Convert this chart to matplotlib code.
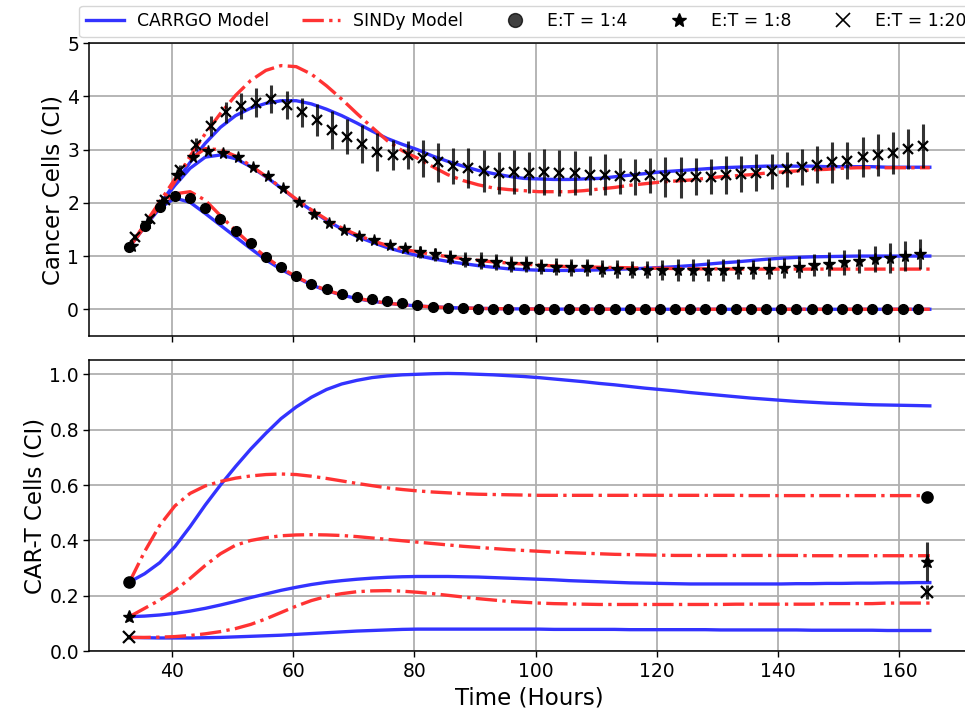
"""
CARRGO vs SINDy 모델 비교 — 암세포 / CAR-T 세포 (세 가지 E:T 비율).
"""

import numpy as np
import matplotlib
matplotlib.use("Agg")
import matplotlib.pyplot as plt
from matplotlib.lines import Line2D

# ---- 시간축 ----
t_model = np.append(np.arange(33, 164, 2.5), 165)   # 모델 곡선
t_data = np.arange(33, 164, 2.5)                      # 측정 시점 (53개)
t_ct = [33, 164.5]                                    # CAR-T 측정 (처음/끝)

# ---- 측정값: 암세포 ----
cancer_14 = [1.17, 1.57, 1.93, 2.12, 2.09, 1.91, 1.70, 1.47, 1.24, 0.99, 0.80, 0.63,
             0.48, 0.38, 0.29, 0.24, 0.19, 0.15, 0.11, 0.08, 0.05, 0.03, 0.02, 0.01,
             0.01, 0.005, 0.004, 0.003, 0.002, 0.002, 0.001, 0.0, 0.0, 0.0, 0.0, 0.0,
             0.0, 0.0, 0.0, 0.0, 0.0, 0.0, 0.0, 0.0, 0.0, 0.0, 0.0, 0.0, 0.0, 0.0,
             0.0, 0.0, 0.0]
cancer_14_err = [0.02, 0.02, 0.02, 0.02, 0.02, 0.02, 0.02, 0.02, 0.02, 0.02, 0.02, 0.02,
                 0.01, 0.01, 0.01, 0.01, 0.01, 0.01, 0.01, 0.01, 0.01, 0.01, 0.01, 0.01,
                 0.01, 0.01, 0.01, 0.01, 0.01, 0.01, 0.01, 0.01, 0.01, 0.01, 0.01, 0.01,
                 0.01, 0.01, 0.01, 0.01, 0.01, 0.01, 0.01, 0.01, 0.01, 0.01, 0.01, 0.01,
                 0.01, 0.01, 0.01, 0.01, 0.01]
cancer_18 = [1.18, 1.62, 2.02, 2.52, 2.87, 2.98, 2.93, 2.86, 2.68, 2.51, 2.27, 2.02,
             1.80, 1.63, 1.49, 1.38, 1.30, 1.21, 1.15, 1.07, 1.03, 0.98, 0.93, 0.91,
             0.88, 0.85, 0.85, 0.81, 0.80, 0.79, 0.79, 0.76, 0.75, 0.74, 0.74, 0.74,
             0.74, 0.74, 0.74, 0.74, 0.75, 0.75, 0.76, 0.78, 0.79, 0.83, 0.85, 0.88,
             0.91, 0.94, 0.96, 1.00, 1.04]
cancer_18_err = [0.02, 0.03, 0.04, 0.05, 0.05, 0.04, 0.03, 0.03, 0.03, 0.03, 0.03, 0.03,
                 0.03, 0.03, 0.03, 0.03, 0.04, 0.04, 0.05, 0.11, 0.13, 0.13, 0.14, 0.16,
                 0.15, 0.15, 0.15, 0.14, 0.16, 0.16, 0.16, 0.16, 0.17, 0.16, 0.16, 0.19,
                 0.21, 0.21, 0.21, 0.21, 0.19, 0.18, 0.20, 0.19, 0.21, 0.20, 0.23, 0.23,
                 0.23, 0.24, 0.28, 0.28, 0.29]
cancer_120 = [1.36, 1.69, 2.05, 2.61, 3.09, 3.45, 3.70, 3.82, 3.88, 3.95, 3.84, 3.70,
              3.55, 3.37, 3.24, 3.11, 2.96, 2.90, 2.90, 2.84, 2.76, 2.69, 2.65, 2.60,
              2.56, 2.58, 2.57, 2.58, 2.56, 2.56, 2.52, 2.53, 2.51, 2.49, 2.52, 2.49,
              2.48, 2.49, 2.49, 2.52, 2.54, 2.57, 2.59, 2.63, 2.68, 2.72, 2.76, 2.79,
              2.86, 2.90, 2.94, 3.01, 3.07]
cancer_120_err = [0.05, 0.06, 0.07, 0.10, 0.12, 0.19, 0.19, 0.24, 0.27, 0.26, 0.27, 0.28,
                  0.30, 0.35, 0.33, 0.36, 0.36, 0.29, 0.27, 0.35, 0.37, 0.34, 0.38, 0.39,
                  0.40, 0.41, 0.39, 0.43, 0.43, 0.42, 0.37, 0.39, 0.34, 0.34, 0.33, 0.38,
                  0.38, 0.35, 0.33, 0.36, 0.34, 0.34, 0.33, 0.33, 0.34, 0.35, 0.38, 0.35,
                  0.37, 0.39, 0.39, 0.38, 0.41]

# ---- 측정값: CAR-T ----
cart_14 = [0.25, 0.558]
cart_18 = [0.125, 0.323]
cart_120 = [0.05, 0.215]
cart_14_err = [0.005, 0.01]
cart_18_err = [0.005, 0.07]
cart_120_err = [0.005, 0.025]

# ---- 모델: 암세포 ----
carrgo_c_14 = [1.17, 1.55, 1.90, 2.09, 2.01, 1.80, 1.58, 1.36, 1.14, 0.93, 0.75, 0.60,
               0.46, 0.35, 0.27, 0.20, 0.15, 0.115, 0.085, 0.062, 0.045, 0.033, 0.024,
               0.017, 0.012, 0.009, 0.006, 0.004, 0.003, 0.002, 0.001, 0.001, 0.001,
               0.0, 0.0, 0.0, 0.0, 0.0, 0.0, 0.0, 0.0, 0.0, 0.0, 0.0, 0.0, 0.0, 0.0,
               0.0, 0.0, 0.0, 0.0, 0.0, 0.0, 0.0]
sindy_c_14 = [1.17, 1.58, 1.95, 2.17, 2.21, 2.05, 1.76, 1.48, 1.22, 0.98, 0.78, 0.61,
              0.47, 0.36, 0.27, 0.21, 0.155, 0.115, 0.085, 0.062, 0.045, 0.033, 0.024,
              0.017, 0.012, 0.009, 0.006, 0.004, 0.003, 0.002, 0.001, 0.001, 0.001,
              0.0, 0.0, 0.0, 0.0, 0.0, 0.0, 0.0, 0.0, 0.0, 0.0, 0.0, 0.0, 0.0, 0.0,
              0.0, 0.0, 0.0, 0.0, 0.0, 0.0, 0.0]
carrgo_c_18 = [1.17, 1.58, 1.97, 2.33, 2.65, 2.86, 2.90, 2.83, 2.68, 2.49, 2.28, 2.06,
               1.86, 1.67, 1.51, 1.37, 1.26, 1.16, 1.08, 1.01, 0.95, 0.90, 0.86, 0.82,
               0.79, 0.76, 0.745, 0.735, 0.73, 0.73, 0.735, 0.74, 0.75, 0.76, 0.77,
               0.785, 0.80, 0.82, 0.845, 0.87, 0.89, 0.915, 0.94, 0.96, 0.975, 0.985,
               0.99, 0.995, 1.0, 1.0, 1.0, 1.0, 1.0, 1.0]
sindy_c_18 = [1.17, 1.60, 2.02, 2.45, 2.82, 3.02, 3.00, 2.88, 2.70, 2.50, 2.29, 2.07,
              1.87, 1.69, 1.53, 1.40, 1.29, 1.20, 1.13, 1.08, 1.03, 0.99, 0.95, 0.92,
              0.89, 0.87, 0.85, 0.83, 0.815, 0.80, 0.795, 0.79, 0.785, 0.78, 0.775,
              0.77, 0.765, 0.76, 0.76, 0.76, 0.755, 0.755, 0.755, 0.755, 0.755, 0.755,
              0.755, 0.755, 0.755, 0.755, 0.755, 0.755, 0.755, 0.755]
carrgo_c_120 = [1.17, 1.57, 1.97, 2.37, 2.76, 3.12, 3.42, 3.64, 3.78, 3.87, 3.92, 3.92,
                3.86, 3.76, 3.64, 3.50, 3.35, 3.21, 3.10, 3.00, 2.88, 2.78, 2.69, 2.61,
                2.55, 2.50, 2.46, 2.45, 2.44, 2.44, 2.45, 2.46, 2.49, 2.52, 2.55, 2.58,
                2.60, 2.62, 2.64, 2.66, 2.67, 2.68, 2.69, 2.69, 2.69, 2.69, 2.68, 2.68,
                2.68, 2.68, 2.67, 2.67, 2.67, 2.67]
sindy_c_120 = [1.17, 1.55, 1.95, 2.40, 2.88, 3.30, 3.68, 4.02, 4.30, 4.49, 4.58, 4.56,
               4.42, 4.20, 3.95, 3.68, 3.42, 3.17, 2.98, 2.84, 2.68, 2.53, 2.42, 2.34,
               2.28, 2.25, 2.23, 2.21, 2.21, 2.21, 2.23, 2.26, 2.29, 2.33, 2.36, 2.39,
               2.41, 2.43, 2.46, 2.49, 2.51, 2.53, 2.56, 2.58, 2.60, 2.62, 2.63, 2.65,
               2.66, 2.66, 2.66, 2.66, 2.66, 2.66]

# ---- 모델: CAR-T ----
carrgo_t_14 = [0.25, 0.28, 0.32, 0.378, 0.45, 0.528, 0.60, 0.667, 0.73, 0.787, 0.84,
               0.882, 0.917, 0.945, 0.965, 0.978, 0.988, 0.994, 0.998, 1.0, 1.002, 1.003,
               1.002, 1.0, 0.998, 0.995, 0.992, 0.988, 0.983, 0.978, 0.973, 0.967,
               0.962, 0.956, 0.95, 0.945, 0.94, 0.934, 0.929, 0.924, 0.919, 0.914,
               0.91, 0.906, 0.902, 0.899, 0.896, 0.894, 0.892, 0.89, 0.889, 0.888,
               0.887, 0.886]
sindy_t_14 = [0.25, 0.36, 0.455, 0.525, 0.57, 0.597, 0.613, 0.625, 0.633, 0.638, 0.64,
              0.638, 0.632, 0.624, 0.615, 0.606, 0.598, 0.59, 0.584, 0.579, 0.575,
              0.572, 0.569, 0.567, 0.566, 0.565, 0.564, 0.563, 0.563, 0.563, 0.563,
              0.563, 0.563, 0.563, 0.563, 0.563, 0.563, 0.563, 0.563, 0.563, 0.563,
              0.562, 0.562, 0.562, 0.562, 0.562, 0.562, 0.562, 0.562, 0.562, 0.562,
              0.562, 0.562, 0.562]
carrgo_t_18 = [0.125, 0.127, 0.131, 0.137, 0.145, 0.155, 0.167, 0.18, 0.194, 0.207,
               0.22, 0.231, 0.241, 0.249, 0.255, 0.26, 0.264, 0.267, 0.269, 0.27,
               0.27, 0.27, 0.269, 0.268, 0.266, 0.264, 0.262, 0.26, 0.258, 0.255,
               0.253, 0.251, 0.249, 0.247, 0.246, 0.245, 0.244, 0.243, 0.243, 0.243,
               0.243, 0.243, 0.243, 0.243, 0.244, 0.244, 0.245, 0.245, 0.246, 0.246,
               0.247, 0.247, 0.248, 0.248]
sindy_t_18 = [0.125, 0.155, 0.185, 0.22, 0.263, 0.31, 0.352, 0.383, 0.40, 0.41, 0.417,
              0.42, 0.421, 0.42, 0.418, 0.414, 0.409, 0.404, 0.399, 0.394, 0.389,
              0.384, 0.379, 0.375, 0.371, 0.367, 0.364, 0.361, 0.358, 0.356, 0.354,
              0.352, 0.35, 0.349, 0.348, 0.347, 0.346, 0.346, 0.346, 0.346, 0.346,
              0.346, 0.346, 0.346, 0.346, 0.345, 0.345, 0.345, 0.345, 0.345, 0.345,
              0.345, 0.345, 0.345]
carrgo_t_120 = [0.05, 0.049, 0.048, 0.048, 0.048, 0.049, 0.05, 0.052, 0.054, 0.056,
                0.058, 0.061, 0.064, 0.067, 0.07, 0.073, 0.075, 0.077, 0.079, 0.08,
                0.08, 0.08, 0.08, 0.08, 0.08, 0.08, 0.08, 0.08, 0.079, 0.079, 0.079,
                0.079, 0.079, 0.078, 0.078, 0.078, 0.078, 0.078, 0.078, 0.077, 0.077,
                0.077, 0.077, 0.077, 0.077, 0.076, 0.076, 0.076, 0.076, 0.076, 0.075,
                0.075, 0.075, 0.075]
sindy_t_120 = [0.05, 0.05, 0.051, 0.053, 0.057, 0.063, 0.071, 0.082, 0.097, 0.117, 0.14,
               0.163, 0.183, 0.198, 0.208, 0.215, 0.218, 0.219, 0.217, 0.213, 0.208,
               0.202, 0.196, 0.19, 0.185, 0.18, 0.177, 0.174, 0.172, 0.171, 0.17,
               0.169, 0.169, 0.169, 0.169, 0.169, 0.169, 0.169, 0.169, 0.169, 0.17,
               0.17, 0.17, 0.17, 0.17, 0.17, 0.172, 0.172, 0.172, 0.172, 0.174, 0.174,
               0.174, 0.174]

BLUE = "#3333ff"
RED = "#ff3333"
# 비율별 마커: (marker, size, x 오프셋)
MARKERS = {"1:4": ("o", 7, 0.0), "1:8": ("*", 8.5, 0.4), "1:20": ("x", 7, 0.9)}


def draw_data(ax, t, y, err, key, ms_scale=1.0):
    marker, ms, _ = MARKERS[key]
    ax.errorbar(t, y, yerr=err, fmt="none", ecolor="k", elinewidth=2.2,
                alpha=0.8, zorder=5)
    mew = 1.6 if marker == "x" else 1.0
    ax.plot(t, y, marker, color="k", ms=ms * ms_scale, mew=mew, zorder=6,
            linestyle="none")


def main():
    fig = plt.figure(figsize=(9.65, 7.16), dpi=100)
    ax1 = fig.add_axes([0.0927, 0.5309, 0.9123, 0.4087])
    ax2 = fig.add_axes([0.0927, 0.0904, 0.9123, 0.4062], sharex=ax1)

    # 모델 곡선
    for c, s in [(carrgo_c_14, sindy_c_14), (carrgo_c_18, sindy_c_18),
                 (carrgo_c_120, sindy_c_120)]:
        ax1.plot(t_model, c, color=BLUE, lw=2.4, zorder=3)
        ax1.plot(t_model, s, color=RED, lw=2.4, ls="-.", zorder=4)
    for c, s in [(carrgo_t_14, sindy_t_14), (carrgo_t_18, sindy_t_18),
                 (carrgo_t_120, sindy_t_120)]:
        ax2.plot(t_model, c, color=BLUE, lw=2.4, zorder=3)
        ax2.plot(t_model, s, color=RED, lw=2.4, ls="-.", zorder=4)

    # 측정값
    for key, y, err in [("1:4", cancer_14, cancer_14_err),
                        ("1:8", cancer_18, cancer_18_err),
                        ("1:20", cancer_120, cancer_120_err)]:
        draw_data(ax1, t_data + MARKERS[key][2], y, err, key)
    for key, y, err in [("1:4", cart_14, cart_14_err),
                        ("1:8", cart_18, cart_18_err),
                        ("1:20", cart_120, cart_120_err)]:
        draw_data(ax2, t_ct, y, err, key, ms_scale=1.15)

    ax1.set_xlim(26.4, 171.6)
    ax1.set_ylim(-0.5, 5)
    ax2.set_ylim(0.0, 1.05)
    ax1.set_yticks([0, 1, 2, 3, 4, 5])

    for ax in (ax1, ax2):
        ax.grid(True, color="#b0b0b0", lw=1.3)
        ax.tick_params(labelsize=13.5, length=4, width=1.0)
        for sp in ax.spines.values():
            sp.set_linewidth(1.1)
    ax1.tick_params(labelbottom=False)

    ax1.set_ylabel("Cancer Cells (CI)", fontsize=16.5, labelpad=2)
    ax2.set_ylabel("CAR-T Cells (CI)", fontsize=16.5, labelpad=2)
    ax2.set_xlabel("Time (Hours)", fontsize=16.5, labelpad=4)

    handles = [
        Line2D([], [], color=BLUE, lw=2.4),
        Line2D([], [], color=RED, lw=2.4, ls="-."),
        Line2D([], [], marker="o", color="k", ls="none", ms=10, alpha=0.75),
        Line2D([], [], marker="*", color="k", ls="none", ms=10),
        Line2D([], [], marker="x", color="k", ls="none", ms=10, mew=1.2),
    ]
    labels = ["CARRGO Model", "SINDy Model", "E:T = 1:4", "E:T = 1:8", "E:T = 1:20"]
    fig.legend(handles, labels, loc="center left", bbox_to_anchor=(0.082, 0.970),
               ncol=5, fontsize=12.4, handlelength=2.2, handletextpad=0.75,
               columnspacing=1.92, borderaxespad=0)

    fig.savefig("out.png", dpi=100)
    plt.close(fig)


if __name__ == "__main__":
    main()
